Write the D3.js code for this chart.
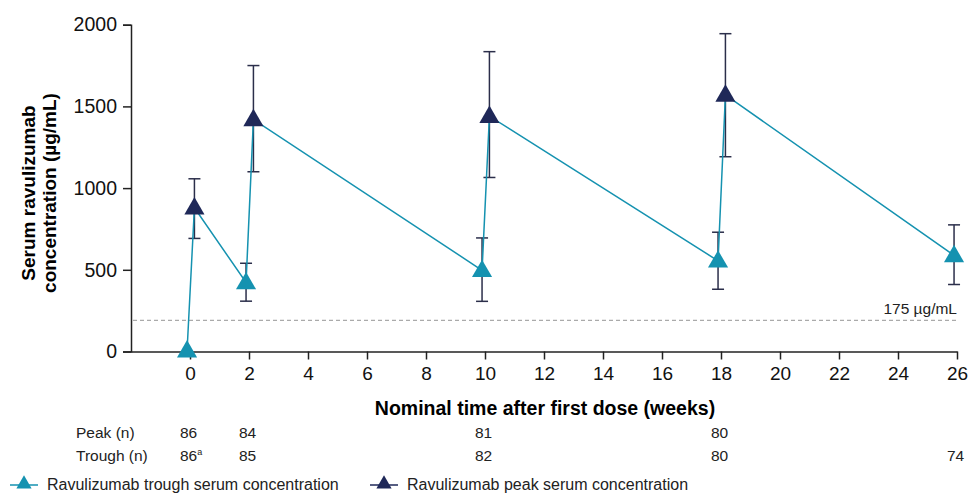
<!DOCTYPE html>
<html>
<head>
<meta charset="utf-8">
<script src="https://cdn.jsdelivr.net/npm/d3@7"></script>
<style>
  body { margin: 0; background: #fff; }
  svg { font-family: "Liberation Sans", Arial, sans-serif; }
  .axis path, .axis line { stroke: #222; stroke-width: 1.5; }
  .axis text { fill: #111; }
</style>
</head>
<body>
<svg id="chart" width="969" height="494"></svg>
<script>
// weeks where samples were taken
let weeks = [0, 2, 10, 18, 26];
// peak serum concentration (no peak at week 26)
let peakMean = [880, 1420, 1440, 1570];
let peakLow  = [692, 1100, 1065, 1192];
let peakHigh = [1057, 1750, 1835, 1945];
// trough serum concentration
let troughMean = [5, 422, 497, 555, 588];
let troughLow  = [5, 308, 307, 381, 410];
let troughHigh = [5, 540, 695, 730, 775];
// n counts under the axis
let peakN = ["86", "84", "81", "80", ""];
let troughN = ["86", "85", "82", "80", "74"];
let xTicks = [0, 2, 4, 6, 8, 10, 12, 14, 16, 18, 20, 22, 24, 26];
let yTicks = [0, 500, 1000, 1500, 2000];
let threshold = 190;

function draw_chart(svg_name) {
    let chart = d3.select(svg_name);
    let teal = "#1592b0";
    let navy = "#1f2858";

    let x = d3.scaleLinear()
        .domain([-2, 26])
        .range([131, 957]);
    let y = d3.scaleLinear()
        .domain([0, 2000])
        .range([351.5, 24.7]);

    // peak points sit slightly right of the tick, trough slightly left
    let peaks = peakMean.map(function(d, i) {
        return {wk: weeks[i] + 0.15, v: d, lo: peakLow[i], hi: peakHigh[i]};
    });
    let troughs = troughMean.map(function(d, i) {
        return {wk: weeks[i] - 0.1, v: d, lo: troughLow[i], hi: troughHigh[i]};
    });

    // y axis
    let yAxis = d3.axisLeft(y).tickValues(yTicks).tickSize(8).tickPadding(6)
        .tickFormat(d3.format("d"));
    let yg = chart.append("g")
        .attr("class", "axis")
        .attr("transform", "translate(131,0)")
        .call(yAxis);
    yg.selectAll("text").style("font-size", "19.5px");

    // x axis
    let xAxis = d3.axisBottom(x).tickValues(xTicks).tickSize(8).tickPadding(7)
        .tickSizeOuter(0);
    let xg = chart.append("g")
        .attr("class", "axis")
        .attr("transform", "translate(0,351.5)")
        .call(xAxis);
    xg.selectAll("text").style("font-size", "19px");

    // threshold line
    chart.append("line")
        .attr("x1", x(-2) + 2)
        .attr("x2", x(26))
        .attr("y1", y(threshold))
        .attr("y2", y(threshold))
        .attr("stroke", "#aaa")
        .attr("stroke-width", 1.2)
        .attr("stroke-dasharray", "4,3");
    chart.append("text")
        .text("175 µg/mL")
        .attr("x", x(26))
        .attr("y", y(threshold) - 6)
        .style("font-size", "15.5px")
        .style("text-anchor", "end")
        .style("fill", "#222");

    // error bars
    let bars = troughs.filter(function(d) { return d.hi > d.lo; }).concat(peaks);
    bars.forEach(function(d) {
        let g = chart.append("g")
            .attr("stroke", "#2b2e4a")
            .attr("stroke-width", 1.5);
        g.append("line")
            .attr("x1", x(d.wk)).attr("x2", x(d.wk))
            .attr("y1", y(d.lo)).attr("y2", y(d.hi));
        g.append("line")
            .attr("x1", x(d.wk) - 6).attr("x2", x(d.wk) + 6)
            .attr("y1", y(d.lo)).attr("y2", y(d.lo));
        g.append("line")
            .attr("x1", x(d.wk) - 6).attr("x2", x(d.wk) + 6)
            .attr("y1", y(d.hi)).attr("y2", y(d.hi));
    });

    // connecting line in time order
    let seq = [];
    troughs.forEach(function(d, i) {
        seq.push(d);
        if (peaks[i]) seq.push(peaks[i]);
    });
    chart.append("path")
        .datum(seq)
        .attr("fill", "none")
        .attr("stroke", teal)
        .attr("stroke-width", 1.5)
        .attr("d", d3.line()
            .x(function(d) { return x(d.wk); })
            .y(function(d) { return y(d.v); }));

    let tri = d3.symbol().type(d3.symbolTriangle).size(175);

    chart.selectAll(".peak")
        .data(peaks)
        .enter()
        .append("path")
        .attr("class", "peak")
        .attr("d", tri)
        .attr("transform", function(d) { return "translate(" + x(d.wk) + "," + (y(d.v) + 1) + ")"; })
        .attr("fill", navy);

    chart.selectAll(".trough")
        .data(troughs)
        .enter()
        .append("path")
        .attr("class", "trough")
        .attr("d", tri)
        .attr("transform", function(d) { return "translate(" + x(d.wk) + "," + (y(d.v) + 1) + ")"; })
        .attr("fill", teal);

    // axis titles
    chart.append("text")
        .attr("transform", "rotate(-90)")
        .attr("x", -193)
        .attr("y", 35)
        .style("font-size", "19px")
        .style("font-weight", "bold")
        .style("text-anchor", "middle")
        .text("Serum ravulizumab");
    chart.append("text")
        .attr("transform", "rotate(-90)")
        .attr("x", -193)
        .attr("y", 56)
        .style("font-size", "19px")
        .style("font-weight", "bold")
        .style("text-anchor", "middle")
        .text("concentration (µg/mL)");
    chart.append("text")
        .attr("x", 545)
        .attr("y", 415)
        .style("font-size", "19.5px")
        .style("font-weight", "bold")
        .style("text-anchor", "middle")
        .text("Nominal time after first dose (weeks)");

    // n table
    chart.append("text").text("Peak (n)")
        .attr("x", 76).attr("y", 438).style("font-size", "15.5px").style("fill", "#222");
    chart.append("text").text("Trough (n)")
        .attr("x", 76).attr("y", 461).style("font-size", "15.5px").style("fill", "#222");
    chart.selectAll(".peakn")
        .data(peakN)
        .enter()
        .append("text")
        .attr("x", function(d, i) { return x(weeks[i]) - 10; })
        .attr("y", 438)
        .style("font-size", "15.5px")
        .style("fill", "#222")
        .text(function(d) { return d; });
    let tn = chart.selectAll(".troughn")
        .data(troughN)
        .enter()
        .append("text")
        .attr("x", function(d, i) { return x(weeks[i]) - 10; })
        .attr("y", 461)
        .style("font-size", "15.5px")
        .style("fill", "#222")
        .text(function(d) { return d; });
    tn.filter(function(d, i) { return i == 0; })
        .append("tspan")
        .attr("dy", -6)
        .style("font-size", "9px")
        .text("a");

    // legend
    let legend = [
        {label: "Ravulizumab trough serum concentration", color: teal, lx: 10},
        {label: "Ravulizumab peak serum concentration", color: navy, lx: 370}
    ];
    let ltri = d3.symbol().type(d3.symbolTriangle).size(100);
    legend.forEach(function(d) {
        chart.append("line")
            .attr("x1", d.lx).attr("x2", d.lx + 28)
            .attr("y1", 485).attr("y2", 485)
            .attr("stroke", d.color).attr("stroke-width", 1.5);
        chart.append("path")
            .attr("d", ltri)
            .attr("transform", "translate(" + (d.lx + 14) + ",484)")
            .attr("fill", d.color);
        chart.append("text")
            .attr("x", d.lx + 37)
            .attr("y", 490)
            .style("font-size", "16px")
            .style("fill", "#222")
            .text(d.label);
    });
}

draw_chart("#chart");
</script>
</body>
</html>
